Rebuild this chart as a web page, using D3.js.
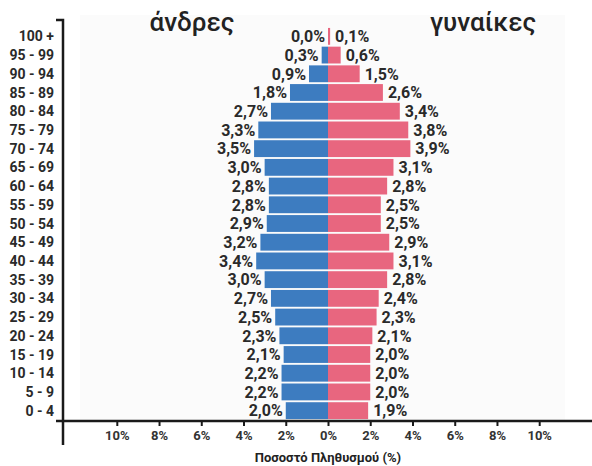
<!DOCTYPE html>
<meta charset="utf-8">
<script src="https://d3js.org/d3.v7.min.js"></script>
<style>
  body { margin: 0; background: #fff; }
  text { font-family: Roboto, "Noto Sans", sans-serif; }
</style>
<div id="pyramid"></div>
<script>
  // age groups, top to bottom
  var ageGroups = ["100 +", "95 - 99", "90 - 94", "85 - 89", "80 - 84", "75 - 79", "70 - 74",
    "65 - 69", "60 - 64", "55 - 59", "50 - 54", "45 - 49", "40 - 44", "35 - 39",
    "30 - 34", "25 - 29", "20 - 24", "15 - 19", "10 - 14", "5 - 9", "0 - 4"];
  var men = [0.0, 0.3, 0.9, 1.8, 2.7, 3.3, 3.5, 3.0, 2.8, 2.8, 2.9, 3.2, 3.4, 3.0,
    2.7, 2.5, 2.3, 2.1, 2.2, 2.2, 2.0];
  var women = [0.1, 0.6, 1.5, 2.6, 3.4, 3.8, 3.9, 3.1, 2.8, 2.5, 2.5, 2.9, 3.1, 2.8,
    2.4, 2.3, 2.1, 2.0, 2.0, 2.0, 1.9];
  var tickValues = [-10, -8, -6, -4, -2, 0, 2, 4, 6, 8, 10];

  var width = 592, height = 466;

  var svg = d3.select("#pyramid")
    .append("svg")
    .attr("width", width)
    .attr("height", height);

  // scales
  var x = d3.scaleLinear().domain([-12.5, 12.5]).range([64, 592]);
  var y = d3.scaleBand().domain(ageGroups).range([27, 420]).paddingInner(0.1).paddingOuter(0.05);

  var fmt = function (v) { return v.toFixed(1).replace(".", ",") + "%"; };

  // faint plot background
  svg.append("rect")
    .attr("x", 80).attr("y", 15)
    .attr("width", 485).attr("height", 405)
    .attr("fill", "#fbfbfb");

  // men bars
  svg.append("g")
    .selectAll("rect")
    .data(men)
    .enter()
    .append("rect")
    .attr("x", function (d) { return x(-d); })
    .attr("y", function (d, i) { return y(ageGroups[i]); })
    .attr("width", function (d) { return x(0) - x(-d); })
    .attr("height", y.bandwidth())
    .attr("fill", "#3d7cc0");

  // women bars
  svg.append("g")
    .selectAll("rect")
    .data(women)
    .enter()
    .append("rect")
    .attr("x", x(0))
    .attr("y", function (d, i) { return y(ageGroups[i]); })
    .attr("width", function (d) { return x(d) - x(0); })
    .attr("height", y.bandwidth())
    .attr("fill", "#e8667f");

  // value labels
  svg.append("g")
    .selectAll("text")
    .data(men)
    .enter()
    .append("text")
    .attr("x", function (d) { return x(-d) - 3; })
    .attr("y", function (d, i) { return y(ageGroups[i]) + y.bandwidth() / 2; })
    .attr("dy", "0.36em")
    .attr("text-anchor", "end")
    .style("font-size", "16px")
    .style("font-weight", "bold")
    .style("fill", "#2a2a2a")
    .text(fmt);

  svg.append("g")
    .selectAll("text")
    .data(women)
    .enter()
    .append("text")
    .attr("x", function (d) { return x(d) + 5; })
    .attr("y", function (d, i) { return y(ageGroups[i]) + y.bandwidth() / 2; })
    .attr("dy", "0.36em")
    .attr("text-anchor", "start")
    .style("font-size", "16px")
    .style("font-weight", "bold")
    .style("fill", "#2a2a2a")
    .text(fmt);

  // age labels
  svg.append("g")
    .selectAll("text")
    .data(ageGroups)
    .enter()
    .append("text")
    .attr("x", 54)
    .attr("y", function (d) { return y(d) + y.bandwidth() / 2; })
    .attr("dy", "0.36em")
    .attr("text-anchor", "end")
    .style("font-size", "14px")
    .style("font-weight", "bold")
    .style("fill", "#2a2a2a")
    .text(function (d) { return d; });

  // axes lines
  svg.append("path")
    .attr("d", "M56,20H63V445")
    .attr("fill", "none")
    .attr("stroke", "#1a1a1a")
    .attr("stroke-width", 2.5);

  var xAxis = svg.append("g")
    .attr("transform", "translate(0,421)")
    .call(d3.axisBottom(x)
      .tickValues(tickValues)
      .tickSize(5)
      .tickPadding(5)
      .tickFormat(function (d) { return Math.abs(d) + "%"; }));
  xAxis.select(".domain").remove();
  xAxis.selectAll(".tick line").attr("stroke", "#1a1a1a").attr("stroke-width", 2);
  xAxis.selectAll(".tick text")
    .style("font-family", "Roboto, sans-serif")
    .style("font-size", "13px")
    .style("font-weight", "bold")
    .style("fill", "#333");

  svg.append("line")
    .attr("x1", 56).attr("x2", 592)
    .attr("y1", 421).attr("y2", 421)
    .attr("stroke", "#1a1a1a")
    .attr("stroke-width", 2.5);

  // titles
  svg.append("text")
    .attr("x", 192).attr("y", 31)
    .attr("text-anchor", "middle")
    .style("font-size", "26px")
    .style("font-weight", "500")
    .style("fill", "#222")
    .text("άνδρες");

  svg.append("text")
    .attr("x", 483).attr("y", 31)
    .attr("text-anchor", "middle")
    .style("font-size", "26px")
    .style("font-weight", "500")
    .style("fill", "#222")
    .text("γυναίκες");

  svg.append("text")
    .attr("x", 328).attr("y", 462)
    .attr("text-anchor", "middle")
    .style("font-size", "13px")
    .style("font-weight", "bold")
    .style("fill", "#222")
    .text("Ποσοστό Πληθυσμού (%)");
</script>
